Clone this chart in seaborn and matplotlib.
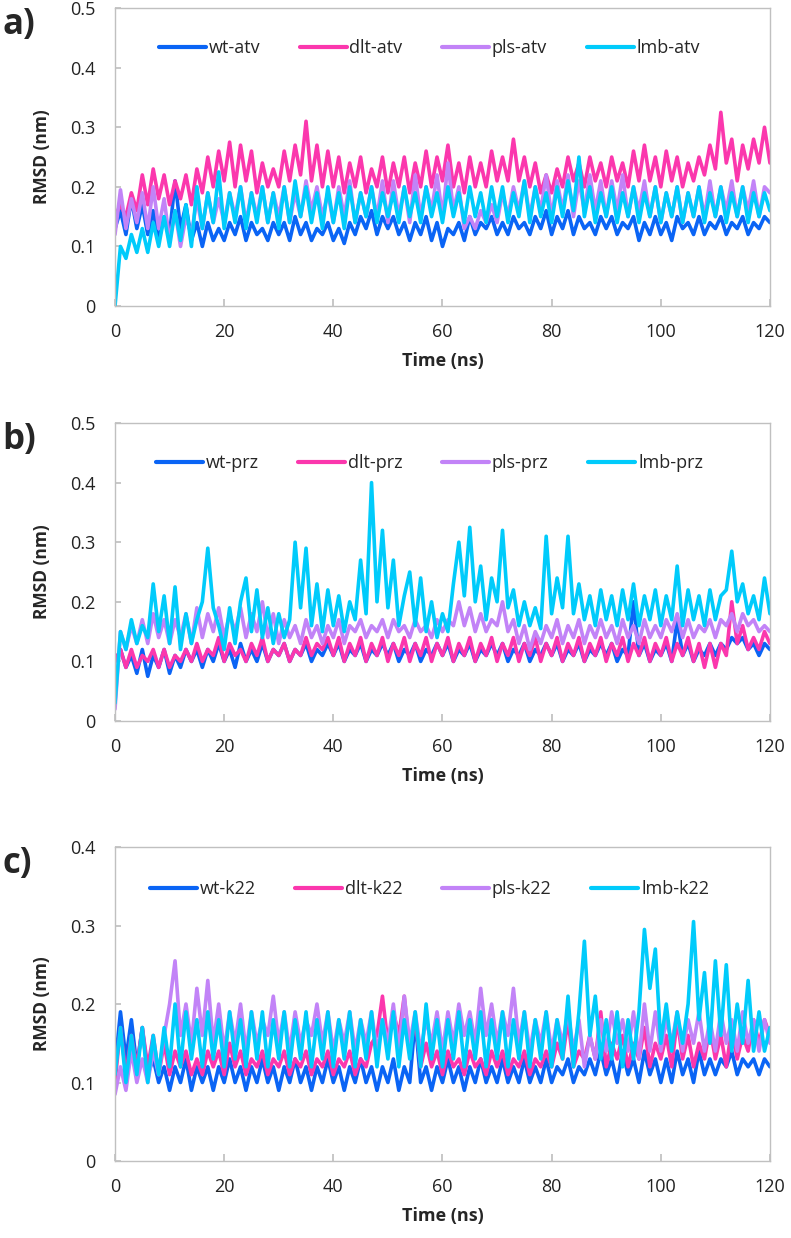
import numpy as np
import pandas as pd
import matplotlib
matplotlib.use("Agg")
import matplotlib.pyplot as plt
import seaborn as sns

# ----- DATA (RMSD in nm, one value per ns) -----
time_ns = np.arange(0, 121)

wt_atv = [0.13, 0.16, 0.12, 0.18, 0.13, 0.17, 0.12, 0.16, 0.11, 0.15,
          0.12, 0.21, 0.13, 0.17, 0.11, 0.14, 0.10, 0.14, 0.11, 0.13,
          0.11, 0.14, 0.12, 0.15, 0.11, 0.14, 0.12, 0.13, 0.11, 0.14,
          0.12, 0.14, 0.11, 0.15, 0.12, 0.14, 0.11, 0.13, 0.12, 0.14,
          0.11, 0.13, 0.105, 0.14, 0.12, 0.15, 0.13, 0.16, 0.12, 0.15,
          0.13, 0.15, 0.12, 0.14, 0.11, 0.14, 0.12, 0.15, 0.11, 0.14,
          0.10, 0.13, 0.12, 0.14, 0.11, 0.15, 0.12, 0.14, 0.13, 0.15,
          0.12, 0.14, 0.12, 0.15, 0.13, 0.14, 0.12, 0.15, 0.13, 0.16,
          0.12, 0.15, 0.13, 0.16, 0.12, 0.15, 0.13, 0.14, 0.12, 0.15,
          0.13, 0.15, 0.12, 0.14, 0.13, 0.15, 0.11, 0.14, 0.12, 0.15,
          0.12, 0.14, 0.11, 0.15, 0.13, 0.14, 0.12, 0.15, 0.12, 0.14,
          0.13, 0.15, 0.12, 0.14, 0.13, 0.15, 0.12, 0.14, 0.13, 0.15,
          0.14]
dlt_atv = [0.15, 0.17, 0.15, 0.19, 0.16, 0.22, 0.17, 0.23, 0.18, 0.22,
           0.17, 0.21, 0.18, 0.22, 0.17, 0.23, 0.19, 0.25, 0.20, 0.26,
           0.21, 0.275, 0.20, 0.27, 0.21, 0.26, 0.19, 0.24, 0.20, 0.23,
           0.20, 0.26, 0.21, 0.27, 0.22, 0.31, 0.21, 0.27, 0.20, 0.26,
           0.20, 0.25, 0.19, 0.24, 0.20, 0.25, 0.19, 0.23, 0.20, 0.25,
           0.19, 0.24, 0.20, 0.25, 0.19, 0.24, 0.20, 0.26, 0.20, 0.25,
           0.21, 0.27, 0.20, 0.24, 0.19, 0.25, 0.20, 0.24, 0.20, 0.26,
           0.21, 0.25, 0.21, 0.28, 0.21, 0.25, 0.20, 0.24, 0.19, 0.22,
           0.19, 0.23, 0.20, 0.25, 0.21, 0.24, 0.20, 0.25, 0.21, 0.24,
           0.20, 0.25, 0.21, 0.24, 0.20, 0.26, 0.21, 0.27, 0.21, 0.25,
           0.20, 0.26, 0.21, 0.25, 0.20, 0.24, 0.21, 0.25, 0.22, 0.27,
           0.23, 0.325, 0.24, 0.28, 0.21, 0.27, 0.23, 0.28, 0.24, 0.30,
           0.24]
pls_atv = [0.12, 0.195, 0.13, 0.18, 0.14, 0.19, 0.13, 0.20, 0.13, 0.18,
           0.11, 0.16, 0.10, 0.15, 0.12, 0.18, 0.13, 0.19, 0.14, 0.18,
           0.14, 0.19, 0.15, 0.20, 0.14, 0.19, 0.15, 0.20, 0.14, 0.19,
           0.15, 0.20, 0.14, 0.19, 0.15, 0.21, 0.16, 0.20, 0.15, 0.19,
           0.14, 0.20, 0.15, 0.21, 0.14, 0.19, 0.15, 0.20, 0.15, 0.21,
           0.14, 0.21, 0.15, 0.20, 0.14, 0.22, 0.15, 0.20, 0.16, 0.22,
           0.15, 0.24, 0.16, 0.20, 0.13, 0.15, 0.13, 0.16, 0.14, 0.17,
           0.14, 0.19, 0.15, 0.20, 0.16, 0.21, 0.15, 0.20, 0.16, 0.22,
           0.15, 0.21, 0.16, 0.22, 0.15, 0.21, 0.16, 0.22, 0.16, 0.21,
           0.15, 0.21, 0.16, 0.22, 0.15, 0.20, 0.16, 0.21, 0.15, 0.20,
           0.14, 0.19, 0.15, 0.20, 0.14, 0.19, 0.15, 0.20, 0.15, 0.21,
           0.15, 0.20, 0.16, 0.21, 0.15, 0.20, 0.16, 0.21, 0.15, 0.20,
           0.19]
lmb_atv = [0.00, 0.10, 0.08, 0.12, 0.09, 0.13, 0.09, 0.14, 0.10, 0.15,
           0.10, 0.16, 0.11, 0.17, 0.10, 0.20, 0.13, 0.19, 0.14, 0.225,
           0.13, 0.19, 0.14, 0.20, 0.13, 0.19, 0.14, 0.20, 0.14, 0.19,
           0.13, 0.20, 0.14, 0.21, 0.15, 0.20, 0.14, 0.19, 0.13, 0.20,
           0.14, 0.19, 0.13, 0.20, 0.14, 0.19, 0.15, 0.20, 0.14, 0.19,
           0.15, 0.19, 0.14, 0.20, 0.15, 0.19, 0.14, 0.20, 0.15, 0.19,
           0.14, 0.20, 0.15, 0.19, 0.14, 0.20, 0.15, 0.19, 0.14, 0.20,
           0.15, 0.20, 0.14, 0.19, 0.15, 0.21, 0.14, 0.20, 0.15, 0.19,
           0.14, 0.20, 0.15, 0.21, 0.16, 0.25, 0.15, 0.20, 0.14, 0.19,
           0.15, 0.20, 0.14, 0.19, 0.15, 0.20, 0.14, 0.19, 0.15, 0.20,
           0.14, 0.19, 0.15, 0.20, 0.14, 0.19, 0.15, 0.20, 0.14, 0.19,
           0.15, 0.20, 0.14, 0.19, 0.15, 0.20, 0.14, 0.19, 0.15, 0.19,
           0.16]

wt_prz = [0.10, 0.12, 0.09, 0.11, 0.08, 0.12, 0.075, 0.11, 0.09, 0.12,
          0.08, 0.11, 0.09, 0.12, 0.10, 0.12, 0.09, 0.12, 0.10, 0.13,
          0.10, 0.12, 0.09, 0.13, 0.10, 0.12, 0.10, 0.13, 0.10, 0.12,
          0.11, 0.13, 0.10, 0.12, 0.11, 0.13, 0.10, 0.12, 0.11, 0.13,
          0.11, 0.13, 0.10, 0.12, 0.11, 0.13, 0.10, 0.12, 0.11, 0.13,
          0.11, 0.13, 0.10, 0.12, 0.11, 0.13, 0.10, 0.12, 0.11, 0.13,
          0.11, 0.13, 0.10, 0.12, 0.11, 0.13, 0.10, 0.12, 0.11, 0.13,
          0.11, 0.13, 0.10, 0.12, 0.11, 0.13, 0.10, 0.12, 0.11, 0.13,
          0.11, 0.13, 0.10, 0.12, 0.11, 0.13, 0.10, 0.12, 0.11, 0.13,
          0.11, 0.13, 0.10, 0.12, 0.11, 0.20, 0.11, 0.13, 0.10, 0.12,
          0.11, 0.13, 0.10, 0.17, 0.11, 0.13, 0.10, 0.12, 0.11, 0.13,
          0.11, 0.13, 0.12, 0.14, 0.13, 0.14, 0.12, 0.13, 0.11, 0.13,
          0.12]
dlt_prz = [0.10, 0.12, 0.09, 0.12, 0.09, 0.11, 0.10, 0.12, 0.09, 0.12,
           0.09, 0.11, 0.10, 0.12, 0.10, 0.13, 0.10, 0.12, 0.11, 0.14,
           0.10, 0.13, 0.11, 0.12, 0.10, 0.13, 0.11, 0.14, 0.10, 0.12,
           0.11, 0.13, 0.10, 0.12, 0.11, 0.14, 0.11, 0.13, 0.12, 0.14,
           0.11, 0.14, 0.10, 0.13, 0.11, 0.14, 0.10, 0.13, 0.11, 0.14,
           0.10, 0.13, 0.11, 0.14, 0.10, 0.13, 0.11, 0.14, 0.10, 0.13,
           0.11, 0.14, 0.10, 0.13, 0.11, 0.14, 0.10, 0.13, 0.11, 0.14,
           0.10, 0.13, 0.11, 0.14, 0.10, 0.13, 0.11, 0.14, 0.10, 0.13,
           0.11, 0.14, 0.10, 0.13, 0.11, 0.14, 0.10, 0.13, 0.11, 0.14,
           0.10, 0.13, 0.11, 0.14, 0.10, 0.13, 0.11, 0.14, 0.10, 0.13,
           0.11, 0.14, 0.10, 0.13, 0.11, 0.14, 0.10, 0.13, 0.09, 0.13,
           0.09, 0.13, 0.11, 0.20, 0.13, 0.16, 0.12, 0.14, 0.12, 0.15,
           0.13]
pls_prz = [0.02, 0.15, 0.12, 0.16, 0.13, 0.17, 0.13, 0.18, 0.14, 0.17,
           0.13, 0.17, 0.14, 0.18, 0.13, 0.19, 0.14, 0.18, 0.15, 0.19,
           0.14, 0.18, 0.15, 0.19, 0.14, 0.18, 0.15, 0.20, 0.14, 0.18,
           0.13, 0.17, 0.14, 0.16, 0.13, 0.17, 0.14, 0.16, 0.13, 0.16,
           0.14, 0.17, 0.13, 0.16, 0.15, 0.17, 0.14, 0.16, 0.15, 0.17,
           0.14, 0.17, 0.15, 0.16, 0.14, 0.17, 0.15, 0.16, 0.14, 0.17,
           0.15, 0.17, 0.16, 0.20, 0.16, 0.19, 0.15, 0.18, 0.15, 0.17,
           0.16, 0.20, 0.15, 0.17, 0.13, 0.16, 0.12, 0.15, 0.13, 0.16,
           0.14, 0.17, 0.13, 0.16, 0.14, 0.17, 0.13, 0.16, 0.14, 0.17,
           0.14, 0.16, 0.13, 0.17, 0.14, 0.16, 0.13, 0.17, 0.14, 0.16,
           0.14, 0.17, 0.15, 0.18, 0.14, 0.17, 0.14, 0.16, 0.15, 0.17,
           0.14, 0.17, 0.16, 0.18, 0.15, 0.18, 0.16, 0.17, 0.15, 0.16,
           0.15]
lmb_prz = [0.03, 0.15, 0.12, 0.17, 0.13, 0.16, 0.14, 0.23, 0.15, 0.21,
           0.13, 0.225, 0.12, 0.18, 0.13, 0.17, 0.20, 0.29, 0.19, 0.16,
           0.12, 0.19, 0.13, 0.20, 0.24, 0.15, 0.22, 0.14, 0.19, 0.13,
           0.18, 0.14, 0.17, 0.30, 0.19, 0.29, 0.16, 0.23, 0.15, 0.22,
           0.16, 0.21, 0.15, 0.20, 0.17, 0.27, 0.18, 0.40, 0.20, 0.32,
           0.19, 0.27, 0.16, 0.21, 0.25, 0.16, 0.24, 0.15, 0.20, 0.14,
           0.18, 0.15, 0.23, 0.30, 0.21, 0.325, 0.20, 0.26, 0.17, 0.24,
           0.20, 0.32, 0.19, 0.22, 0.16, 0.20, 0.16, 0.19, 0.155, 0.31,
           0.18, 0.24, 0.19, 0.31, 0.18, 0.23, 0.17, 0.21, 0.16, 0.22,
           0.17, 0.21, 0.16, 0.22, 0.17, 0.23, 0.16, 0.21, 0.17, 0.22,
           0.16, 0.21, 0.17, 0.26, 0.16, 0.22, 0.17, 0.21, 0.16, 0.22,
           0.17, 0.21, 0.22, 0.285, 0.20, 0.23, 0.18, 0.21, 0.17, 0.24,
           0.18]

wt_k22 = [0.12, 0.19, 0.13, 0.18, 0.12, 0.17, 0.11, 0.13, 0.10, 0.12,
          0.09, 0.12, 0.10, 0.13, 0.09, 0.12, 0.10, 0.12, 0.09, 0.12,
          0.10, 0.13, 0.10, 0.12, 0.09, 0.12, 0.10, 0.13, 0.10, 0.12,
          0.09, 0.12, 0.10, 0.13, 0.10, 0.12, 0.09, 0.12, 0.10, 0.13,
          0.10, 0.12, 0.09, 0.12, 0.10, 0.13, 0.10, 0.12, 0.09, 0.12,
          0.10, 0.13, 0.09, 0.12, 0.10, 0.18, 0.10, 0.12, 0.09, 0.12,
          0.10, 0.13, 0.10, 0.12, 0.09, 0.12, 0.10, 0.13, 0.10, 0.12,
          0.10, 0.13, 0.10, 0.12, 0.10, 0.13, 0.10, 0.12, 0.10, 0.13,
          0.10, 0.12, 0.11, 0.13, 0.10, 0.12, 0.11, 0.13, 0.11, 0.14,
          0.11, 0.13, 0.10, 0.14, 0.11, 0.13, 0.10, 0.14, 0.11, 0.13,
          0.10, 0.13, 0.10, 0.14, 0.11, 0.13, 0.10, 0.14, 0.11, 0.13,
          0.11, 0.13, 0.12, 0.14, 0.11, 0.13, 0.12, 0.13, 0.11, 0.13,
          0.12]
dlt_k22 = [0.10, 0.17, 0.11, 0.16, 0.12, 0.17, 0.12, 0.16, 0.11, 0.15,
           0.11, 0.14, 0.12, 0.14, 0.11, 0.13, 0.11, 0.14, 0.12, 0.14,
           0.11, 0.15, 0.12, 0.14, 0.11, 0.13, 0.12, 0.14, 0.11, 0.13,
           0.12, 0.14, 0.11, 0.13, 0.12, 0.14, 0.11, 0.13, 0.12, 0.14,
           0.11, 0.13, 0.12, 0.14, 0.11, 0.13, 0.12, 0.15, 0.16, 0.21,
           0.15, 0.19, 0.16, 0.21, 0.14, 0.18, 0.12, 0.15, 0.12, 0.14,
           0.11, 0.14, 0.12, 0.13, 0.11, 0.14, 0.12, 0.13, 0.11, 0.14,
           0.12, 0.14, 0.11, 0.13, 0.12, 0.14, 0.11, 0.13, 0.12, 0.14,
           0.12, 0.15, 0.13, 0.18, 0.12, 0.14, 0.13, 0.16, 0.13, 0.19,
           0.12, 0.15, 0.13, 0.16, 0.12, 0.15, 0.13, 0.17, 0.12, 0.15,
           0.13, 0.16, 0.12, 0.18, 0.13, 0.16, 0.12, 0.15, 0.13, 0.17,
           0.13, 0.16, 0.12, 0.17, 0.13, 0.16, 0.14, 0.18, 0.15, 0.18,
           0.16]
pls_k22 = [0.085, 0.12, 0.09, 0.14, 0.10, 0.13, 0.10, 0.14, 0.11, 0.16,
           0.20, 0.255, 0.16, 0.20, 0.15, 0.22, 0.16, 0.23, 0.15, 0.20,
           0.14, 0.19, 0.15, 0.20, 0.14, 0.19, 0.15, 0.18, 0.16, 0.21,
           0.15, 0.19, 0.14, 0.19, 0.15, 0.18, 0.16, 0.20, 0.15, 0.19,
           0.14, 0.18, 0.15, 0.19, 0.14, 0.18, 0.15, 0.19, 0.14, 0.18,
           0.15, 0.20, 0.14, 0.21, 0.15, 0.19, 0.14, 0.18, 0.15, 0.19,
           0.14, 0.19, 0.15, 0.20, 0.16, 0.19, 0.15, 0.22, 0.16, 0.20,
           0.15, 0.19, 0.16, 0.22, 0.15, 0.19, 0.14, 0.18, 0.15, 0.19,
           0.14, 0.18, 0.15, 0.19, 0.14, 0.18, 0.12, 0.16, 0.13, 0.18,
           0.14, 0.19, 0.15, 0.18, 0.14, 0.19, 0.13, 0.20, 0.14, 0.19,
           0.14, 0.18, 0.15, 0.19, 0.14, 0.18, 0.15, 0.19, 0.14, 0.18,
           0.14, 0.19, 0.15, 0.18, 0.14, 0.19, 0.15, 0.18, 0.14, 0.18,
           0.15]
lmb_k22 = [0.11, 0.17, 0.10, 0.16, 0.11, 0.17, 0.10, 0.16, 0.11, 0.17,
           0.12, 0.20, 0.12, 0.19, 0.13, 0.18, 0.12, 0.19, 0.13, 0.18,
           0.12, 0.19, 0.13, 0.18, 0.12, 0.19, 0.13, 0.19, 0.12, 0.18,
           0.13, 0.19, 0.12, 0.18, 0.13, 0.19, 0.12, 0.18, 0.13, 0.19,
           0.12, 0.18, 0.13, 0.19, 0.12, 0.18, 0.13, 0.19, 0.12, 0.18,
           0.13, 0.19, 0.12, 0.18, 0.13, 0.19, 0.12, 0.20, 0.13, 0.18,
           0.12, 0.18, 0.13, 0.19, 0.12, 0.18, 0.13, 0.19, 0.12, 0.18,
           0.13, 0.19, 0.12, 0.18, 0.13, 0.19, 0.12, 0.18, 0.13, 0.19,
           0.12, 0.18, 0.13, 0.21, 0.12, 0.19, 0.28, 0.16, 0.21, 0.13,
           0.18, 0.13, 0.19, 0.12, 0.18, 0.13, 0.19, 0.295, 0.22, 0.27,
           0.15, 0.20, 0.14, 0.19, 0.15, 0.20, 0.305, 0.18, 0.24, 0.15,
           0.255, 0.16, 0.25, 0.14, 0.20, 0.15, 0.23, 0.14, 0.19, 0.14,
           0.17]

panel_letters = ["a)", "b)", "c)"]
ligands = ["atv", "prz", "k22"]
variants = ["wt", "dlt", "pls", "lmb"]
panel_series = [[wt_atv, dlt_atv, pls_atv, lmb_atv],
                [wt_prz, dlt_prz, pls_prz, lmb_prz],
                [wt_k22, dlt_k22, pls_k22, lmb_k22]]
y_max = [0.5, 0.5, 0.4]
x_ticks = [0, 20, 40, 60, 80, 100, 120]

colors = ["#0a64f5", "#fb37ad", "#c283f7", "#00cbfb"]

sns.set_theme(style="white")
plt.rcParams["font.family"] = ["Open Sans", "DejaVu Sans"]

fig = plt.figure(figsize=(7.91, 12.38), dpi=100)
# axes boxes in figure fractions [left, bottom, width, height]
boxes = [[0.1454, 0.7528, 0.828, 0.2407],
         [0.1454, 0.4176, 0.828, 0.2407],
         [0.1454, 0.0622, 0.828, 0.2536]]

for i in range(3):
    ax = fig.add_axes(boxes[i])
    names = [f"{v}-{ligands[i]}" for v in variants]

    # long-form table for seaborn
    frames = []
    for name, vals in zip(names, panel_series[i]):
        frames.append(pd.DataFrame({"time": time_ns, "rmsd": vals, "system": name}))
    df = pd.concat(frames, ignore_index=True)

    sns.lineplot(data=df, x="time", y="rmsd", hue="system", hue_order=names,
                 palette=colors, linewidth=2.6, ax=ax, legend=True)

    ax.set_xlim(0, 120)
    ax.set_ylim(0, y_max[i])
    ax.set_xticks(x_ticks)
    ax.set_yticks(np.round(np.arange(0, y_max[i] + 0.01, 0.1), 1))
    ax.set_yticklabels(["0"] + [f"{t:.1f}" for t in np.arange(0.1, y_max[i] + 0.01, 0.1)])

    for side in ax.spines.values():
        side.set_color("#c0c0c0")
        side.set_linewidth(1.0)
    ax.tick_params(axis="x", direction="in", length=5, color="#c0c0c0",
                   labelsize=13, pad=12, labelcolor="#222222", bottom=True)
    ax.tick_params(axis="y", direction="in", length=4, color="#c0c0c0",
                   labelsize=13, pad=14, labelcolor="#222222", left=True)

    ax.set_xlabel("Time (ns)", fontsize=13, fontweight="bold", labelpad=8)
    ax.set_ylabel("RMSD (nm)", fontsize=12.5, fontweight="bold", labelpad=14)

    handles, labels = ax.get_legend_handles_labels()
    ax.legend(handles, labels, loc="center", bbox_to_anchor=(0.48, 0.865),
              ncol=4, frameon=False, fontsize=13, handlelength=2.6,
              handletextpad=0.15, columnspacing=2.2)
    for line in ax.get_legend().get_lines():
        line.set_linewidth(3.0)

    pos = ax.get_position()
    fig.text(0.003, pos.y1 - 0.014, panel_letters[i], fontsize=25,
             fontweight="bold", ha="left", va="center")

fig.savefig("out.png", dpi=100)
